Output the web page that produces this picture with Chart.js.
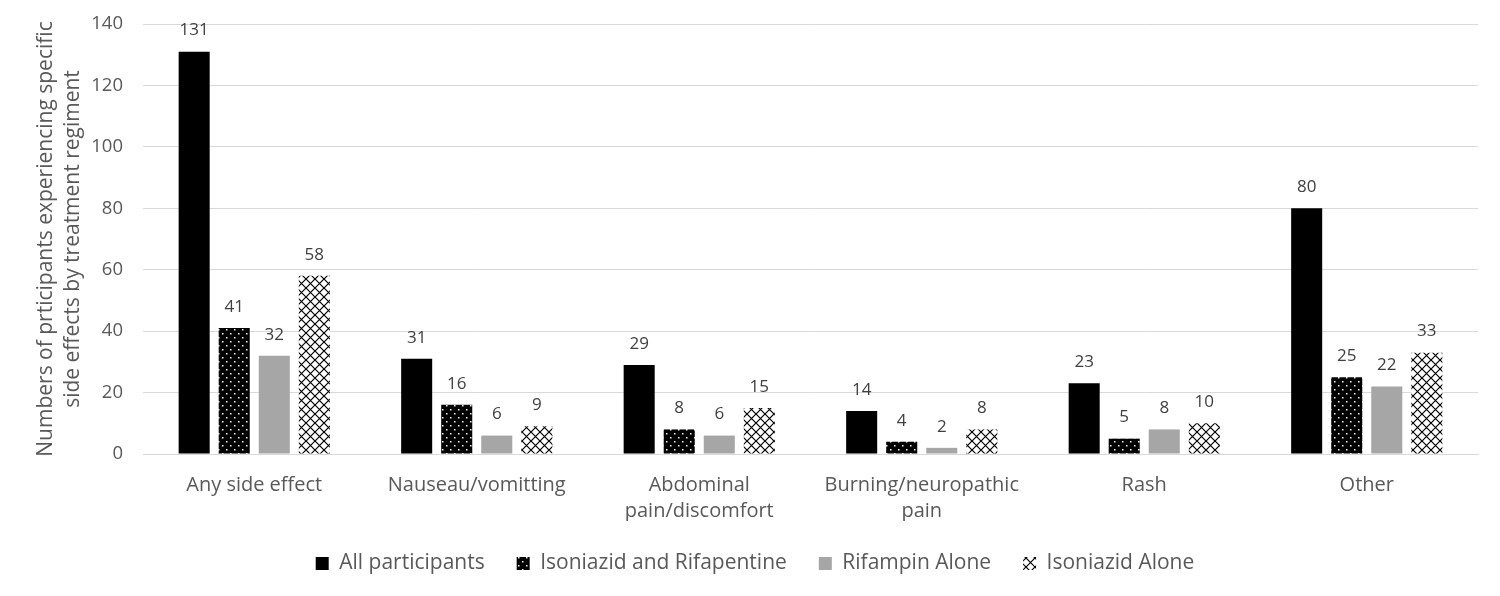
<!DOCTYPE html>
<html>
<head>
<meta charset="utf-8">
<script src="https://cdn.jsdelivr.net/npm/chart.js@4.4.1/dist/chart.umd.min.js"></script>
<style>
  html, body { margin: 0; padding: 0; background: #fff; }
  #wrap { width: 1500px; height: 596px; position: relative; }
</style>
</head>
<body>
<div id="wrap"><canvas id="sideChart"></canvas></div>
<script>
// Data
const categories = ['Any side effect', 'Nauseau/vomitting', ['Abdominal', 'pain/discomfort'], ['Burning/neuropathic', 'pain'], 'Rash', 'Other'];
const allParticipants = [131, 31, 29, 14, 23, 80];
const isoRifapentine = [41, 16, 8, 4, 5, 25];
const rifampinAlone = [32, 6, 6, 2, 8, 22];
const isoniazidAlone = [58, 9, 15, 8, 10, 33];
const yTicks = [0, 20, 40, 60, 80, 100, 120, 140];

const FONT = '"Open Sans", "Noto Sans", sans-serif';

// black with white dots
function dotPattern() {
    const c = document.createElement('canvas');
    c.width = 8; c.height = 8;
    const g = c.getContext('2d');
    g.fillStyle = '#000';
    g.fillRect(0, 0, 8, 8);
    g.fillStyle = '#fff';
    g.fillRect(2, 1, 1.5, 1.5);
    g.fillRect(6, 5, 1.5, 1.5);
    return g.createPattern(c, 'repeat');
}

// white with black diamond lattice
function crossPattern() {
    const c = document.createElement('canvas');
    c.width = 9; c.height = 9;
    const g = c.getContext('2d');
    g.fillStyle = '#fff';
    g.fillRect(0, 0, 9, 9);
    g.strokeStyle = '#000';
    g.lineWidth = 1.2;
    g.beginPath();
    g.moveTo(0, 0); g.lineTo(9, 9);
    g.moveTo(9, 0); g.lineTo(0, 9);
    g.stroke();
    return g.createPattern(c, 'repeat');
}

const dots = dotPattern();
const cross = crossPattern();

// values over the bars
const valueLabels = {
    id: 'valueLabels',
    afterDatasetsDraw(chart) {
        const ctx = chart.ctx;
        ctx.save();
        ctx.font = '17px ' + FONT;
        ctx.fillStyle = '#404040';
        ctx.textAlign = 'center';
        ctx.textBaseline = 'middle';
        chart.data.datasets.forEach((ds, i) => {
            chart.getDatasetMeta(i).data.forEach((bar, j) => {
                ctx.fillText(ds.data[j], bar.x, bar.y - 21);
            });
        });
        ctx.restore();
    }
};

const ctx = document.getElementById('sideChart').getContext('2d');
new Chart(ctx, {
    type: 'bar',
    data: {
        labels: categories,
        datasets: [
            { label: 'All participants', data: allParticipants, backgroundColor: '#000' },
            { label: 'Isoniazid and Rifapentine', data: isoRifapentine, backgroundColor: dots },
            { label: 'Rifampin Alone', data: rifampinAlone, backgroundColor: '#a6a6a6' },
            { label: 'Isoniazid Alone', data: isoniazidAlone, backgroundColor: cross }
        ]
    },
    options: {
        responsive: true,
        maintainAspectRatio: false,
        animation: false,
        datasets: { bar: { categoryPercentage: 0.72, barPercentage: 0.775 } },
        layout: { padding: { left: 32, right: 22, top: 24, bottom: 12 } },
        scales: {
            x: {
                afterFit: (axis) => { axis.height = 67; },
                grid: { display: false },
                border: { display: true, color: '#d9d9d9' },
                ticks: { color: '#595959', font: { size: 20, family: FONT, lineHeight: 1.3 }, padding: 10, maxRotation: 0 }
            },
            y: {
                min: 0, max: 140,
                afterBuildTicks: (axis) => { axis.ticks = yTicks.map(v => ({ value: v })); },
                afterFit: (axis) => {
                    axis.width = 111;
                    axis.paddingTop = 0;
                    axis.paddingBottom = 0;
                },
                grid: { color: '#d9d9d9', drawTicks: false },
                border: { display: false },
                ticks: { color: '#595959', font: { size: 18.5, family: FONT }, padding: 20 },
                title: {
                    display: true,
                    text: ['Numbers of prticipants experiencing specific', 'side effects by treatment regiment'],
                    color: '#595959',
                    font: { size: 21, family: FONT, weight: 'normal', lineHeight: 1.3 },
                    padding: 0
                }
            }
        },
        plugins: {
            legend: {
                position: 'bottom',
                labels: {
                    color: '#595959',
                    font: { size: 21, family: FONT },
                    boxWidth: 13, boxHeight: 13,
                    padding: 32
                }
            },
            tooltip: { enabled: false }
        }
    },
    plugins: [valueLabels]
});
</script>
</body>
</html>
